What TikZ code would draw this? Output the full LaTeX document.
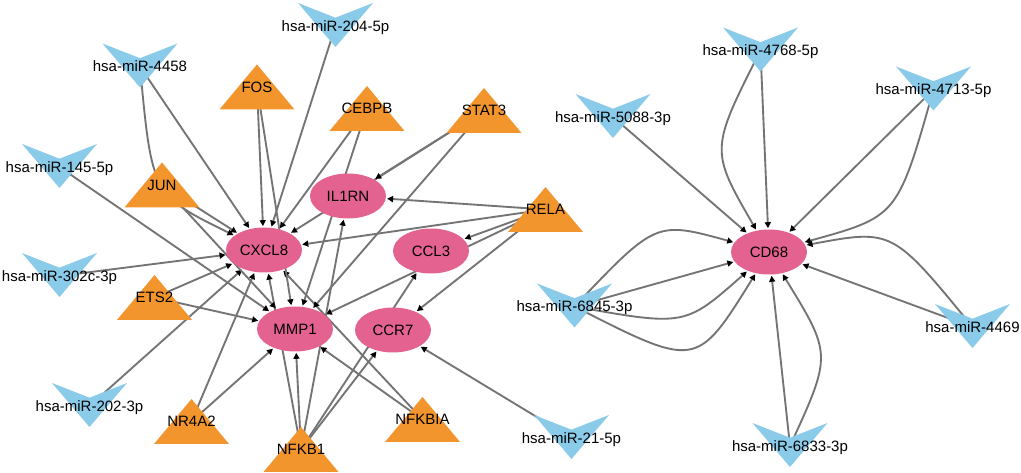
\documentclass[tikz,border=0pt]{standalone}
\usepackage{fontspec}
\setmainfont{Liberation Sans}
\usetikzlibrary{arrows.meta,backgrounds,shapes.geometric}
\definecolor{mirfill}{HTML}{8ACBEA}
\definecolor{tffill}{HTML}{F3952D}
\definecolor{genefill}{HTML}{E4628F}
\definecolor{edgegray}{HTML}{747474}
\tikzset{
  lab/.style={inner sep=0pt, text height=8.1pt, text depth=0pt, text=black,
    font=\fontsize{11.25}{13}\selectfont},
  gene/.style={lab, ellipse, fill=genefill, minimum width=57pt, minimum height=33.75pt},
  mirshape/.style={fill=mirfill},
  tfshape/.style={fill=tffill},
  edge/.style={draw=edgegray, line width=1.4pt,
    -{Triangle[length=4.5pt,width=4.5pt,color=black]}, shorten >=0.8pt},
}
\newcommand\MiRNode[4]{%
  \fill[mirshape] (#2-37.5,#3-22) -- (#2,#3-7.3) -- (#2+37.5,#3-22) -- (#2,#3+22) -- cycle;
  \node[lab] (#1) at (#2,#3+1) {#4};}
\newcommand\TFNode[4]{%
  \fill[tfshape] (#2-37.5,#3+22.5) -- (#2,#3-22.5) -- (#2+37.5,#3+22.5) -- cycle;
  \node[lab] (#1) at (#2,#3) {#4};}
\begin{document}
\begin{tikzpicture}[x=0.75pt,y=-0.75pt]
\useasboundingbox (0,0) rectangle (1021,473);
% genes
\node[gene] (CXCL8) at (264,250) {CXCL8};
\node[gene] (IL1RN) at (348,196) {IL1RN};
\node[gene] (CCL3)  at (431,251) {CCL3};
\node[gene] (MMP1)  at (295,329) {MMP1};
\node[gene] (CCR7)  at (393,330) {CCR7};
\node[gene] (CD68)  at (769,252) {CD68};
% transcription factors
\TFNode{FOS}{257}{87}{FOS}
\TFNode{JUN}{162}{185}{JUN}
\TFNode{CEBPB}{367}{108.5}{CEBPB}
\TFNode{STAT3}{484}{110.5}{STAT3}
\TFNode{RELA}{545.5}{209.5}{RELA}
\TFNode{ETS2}{154.5}{297.5}{ETS2}
\TFNode{NR4A2}{191.5}{421.5}{NR4A2}
\TFNode{NFKB1}{301}{449.5}{NFKB1}
\TFNode{NFKBIA}{422.5}{419.5}{NFKBIA}
% miRNAs
\MiRNode{m204}{335.5}{25}{hsa-miR-204-5p}
\MiRNode{m4458}{140}{65.5}{hsa-miR-4458}
\MiRNode{m145}{59.5}{166}{hsa-miR-145-5p}
\MiRNode{m302c}{59.5}{275}{hsa-miR-302c-3p}
\MiRNode{m202}{89.5}{405}{hsa-miR-202-3p}
\MiRNode{m21}{571.5}{437}{hsa-miR-21-5p}
\MiRNode{m6845}{574.5}{305.5}{hsa-miR-6845-3p}
\MiRNode{m6833}{790}{445}{hsa-miR-6833-3p}
\MiRNode{m4469}{972.5}{326}{hsa-miR-4469}
\MiRNode{m5088}{613}{116}{hsa-miR-5088-3p}
\MiRNode{m4768}{760.5}{49.5}{hsa-miR-4768-5p}
\MiRNode{m4713}{933.5}{88.5}{hsa-miR-4713-5p}
% edges
\begin{scope}[on background layer]
\fill[white] (0,0) rectangle (1021,473);
% CXCL8
\foreach \s in {m4458,JUN,FOS,m204,CEBPB,STAT3,RELA,m302c,ETS2,m202,NR4A2,NFKB1,NFKBIA}
  \draw[edge] (\s.center) -- (CXCL8);
\draw[edge] (m4458.center) .. controls (152,195) .. (CXCL8);
% MMP1
\foreach \s in {m145,JUN,FOS,CEBPB,STAT3,RELA,ETS2,NR4A2,NFKB1,NFKBIA}
  \draw[edge] (\s.center) -- (MMP1);
% IL1RN
\foreach \s in {STAT3,RELA,NFKB1}
  \draw[edge] (\s.center) -- (IL1RN);
% CCL3
\foreach \s in {RELA,NFKB1}
  \draw[edge] (\s.center) -- (CCL3);
% CCR7
\foreach \s in {RELA,NFKB1,m21}
  \draw[edge] (\s.center) -- (CCR7);
% CD68
\foreach \s in {m5088,m4768,m4713,m4469,m6833,m6845}
  \draw[edge] (\s.center) -- (CD68);
\draw[edge] (m4768.center) .. controls (710,150) .. (CD68);
\draw[edge] (m4713.center) .. controls (897.6,216.5) .. (CD68);
\draw[edge] (m4469.center) .. controls (892.4,229) .. (CD68);
\draw[edge] (m6833.center) .. controls (832,354.5) .. (CD68);
\draw[edge] (m6845.center) .. controls (655.9,220.9) .. (CD68);
\draw[edge] (m6845.center) .. controls (685,326.3) .. (CD68);
\draw[edge] (m6845.center) .. controls (696.5,368.7) .. (CD68);
\end{scope}
\end{tikzpicture}
\end{document}
